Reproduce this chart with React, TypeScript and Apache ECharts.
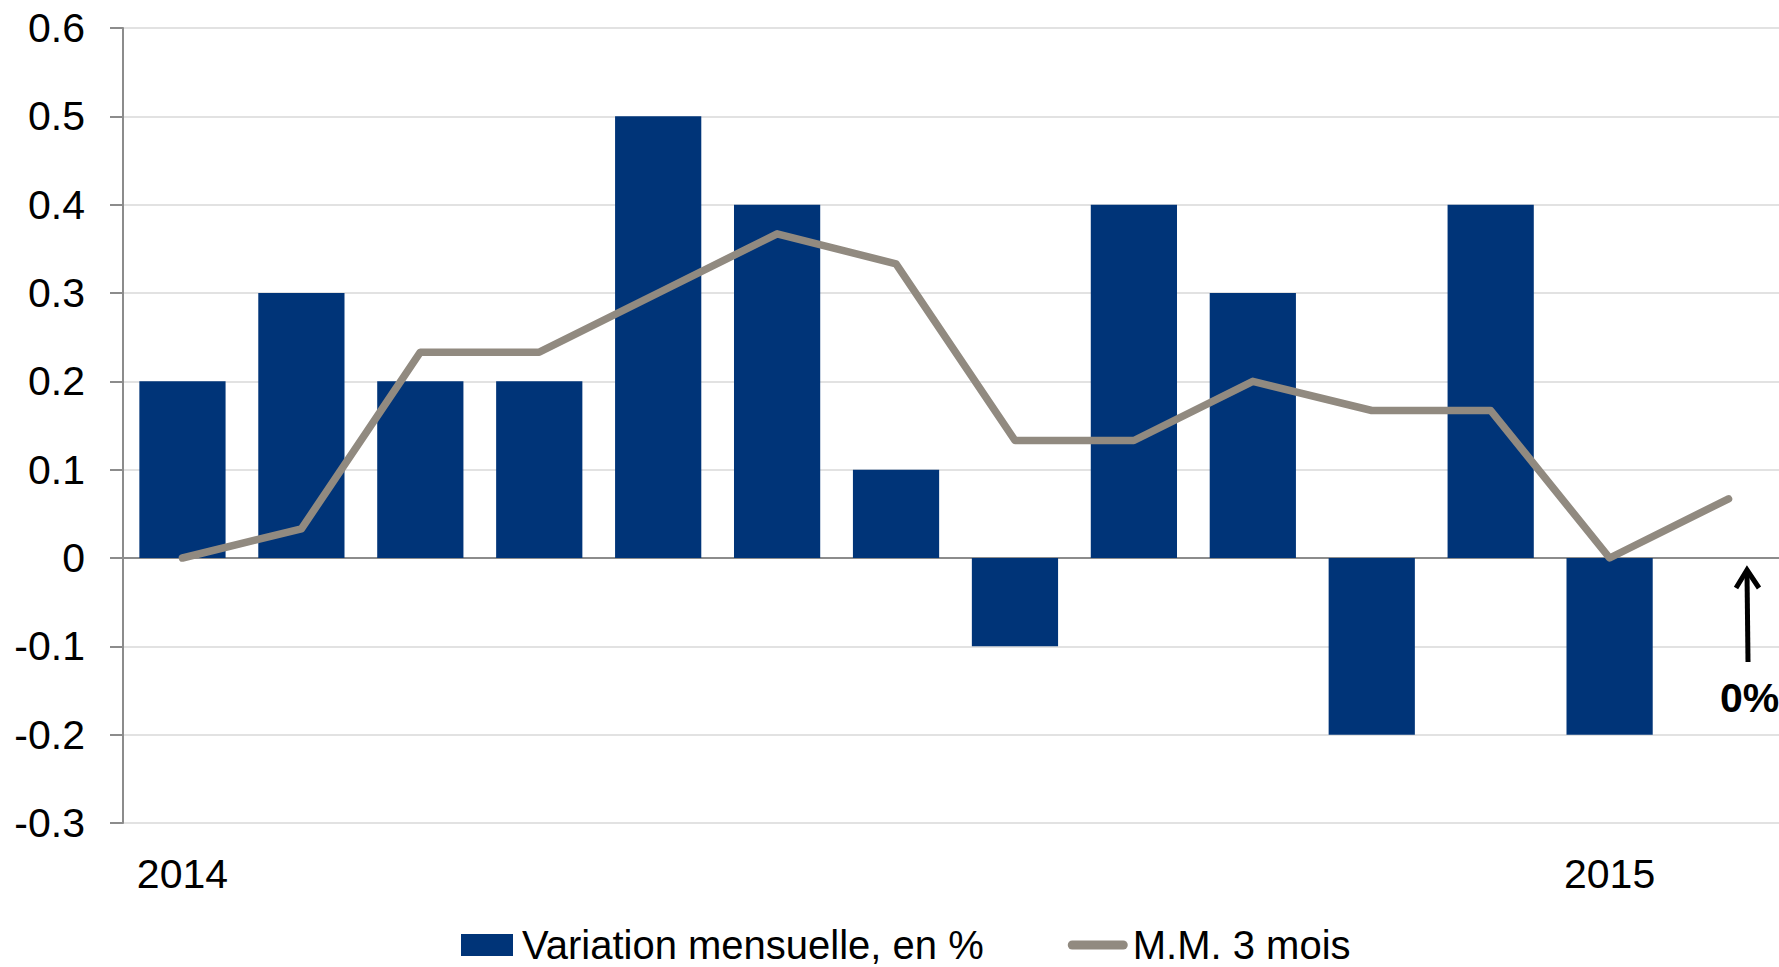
import React, { useEffect, useRef } from "react";
import * as echarts from "echarts";

const months = [
  "2014-01", "2014-02", "2014-03", "2014-04", "2014-05", "2014-06", "2014-07",
  "2014-08", "2014-09", "2014-10", "2014-11", "2014-12", "2015-01", "2015-02",
];
const monthlyChange = [0.2, 0.3, 0.2, 0.2, 0.5, 0.4, 0.1, -0.1, 0.4, 0.3, -0.2, 0.4, -0.2, 0];
const movingAvg3 = [0, 0.033, 0.233, 0.233, 0.3, 0.367, 0.333, 0.133, 0.133, 0.2, 0.167, 0.167, 0, 0.067];
const yMin = -0.3;
const yMax = 0.6;
const yStep = 0.1;
const barName = "Variation mensuelle, en %";
const lineName = "M.M. 3 mois";
const arrowLabel = "0%";

const FONT = "'Liberation Sans', Arial, Helvetica, sans-serif";
const BAR_COLOR = "#003478";
const LINE_COLOR = "#918a80";

export default function App() {
  const ref = useRef<HTMLDivElement>(null);
  useEffect(() => {
    if (!ref.current) return;
    const chart = echarts.init(ref.current, null, { renderer: "svg" });
    chart.setOption({
      animation: false,
      backgroundColor: "#ffffff",
      textStyle: { fontFamily: FONT },
      grid: { left: 123, top: 28, bottom: 144, width: 1665 },
      legend: {
        left: 461,
        top: 925,
        padding: 0,
        itemWidth: 60,
        itemHeight: 22,
        itemGap: 84,
        textStyle: { fontSize: 40, color: "#000", fontFamily: FONT },
        data: [
          { name: barName, icon: "path://M0,0 H52 V22 H0 Z" },
          {
            name: lineName,
            icon: "path://M4.5,0 H55.5 A4.5,4.5 0 0 1 55.5,9 H4.5 A4.5,4.5 0 0 1 4.5,0 Z",
          },
        ],
      },
      xAxis: [
        {
          type: "category",
          data: months,
          position: "bottom",
          boundaryGap: true,
          axisLine: { show: false, onZero: false },
          axisTick: { show: false },
          splitLine: { show: false },
          axisLabel: {
            interval: 0,
            margin: 30,
            fontSize: 41,
            color: "#000",
            fontFamily: FONT,
            formatter: (v: string) => (v.endsWith("-01") ? v.slice(0, 4) : ""),
          },
        },
        {
          type: "category",
          data: months,
          position: "bottom",
          boundaryGap: true,
          axisLine: { show: true, onZero: true, lineStyle: { color: "#8c8c8c", width: 2 } },
          axisTick: {
            show: true,
            interval: (i: number) => i === 12,
            length: 12,
            lineStyle: { color: "#8c8c8c", width: 2 },
          },
          axisLabel: { show: false },
          splitLine: { show: false },
        },
      ],
      yAxis: {
        type: "value",
        min: yMin,
        max: yMax,
        interval: yStep,
        axisLine: { show: true, lineStyle: { color: "#8c8c8c", width: 2 } },
        axisTick: { show: true, length: 13, lineStyle: { color: "#8c8c8c", width: 2 } },
        splitLine: { show: true, lineStyle: { color: "#d9d9d9", width: 1.5 } },
        axisLabel: {
          margin: 38,
          fontSize: 41,
          color: "#000",
          fontFamily: FONT,
          formatter: (v: number) => String(parseFloat(v.toFixed(1))),
        },
      },
      series: [
        {
          name: barName,
          type: "bar",
          xAxisIndex: 0,
          data: monthlyChange,
          barWidth: "72.5%",
          itemStyle: { color: BAR_COLOR },
          z: 2,
        },
        {
          name: lineName,
          type: "line",
          xAxisIndex: 0,
          data: movingAvg3,
          symbol: "none",
          lineStyle: { color: LINE_COLOR, width: 7.5, cap: "round", join: "round" },
          itemStyle: { color: LINE_COLOR },
          z: 4,
        },
      ],
      graphic: [
        {
          type: "line",
          shape: { x1: 1748, y1: 662, x2: 1747, y2: 572 },
          style: { stroke: "#000", lineWidth: 5 },
          z: 10,
        },
        {
          type: "polyline",
          shape: { points: [[1736, 588], [1747, 570], [1759, 588]] },
          style: { stroke: "#000", lineWidth: 5, fill: "none", lineJoin: "miter" },
          z: 10,
        },
        {
          type: "text",
          x: 1720,
          y: 698,
          style: {
            text: arrowLabel,
            fontSize: 41,
            fontWeight: "bold",
            fontFamily: FONT,
            fill: "#000",
            verticalAlign: "middle",
            align: "left",
          },
          z: 10,
        },
      ],
    });
    return () => chart.dispose();
  }, []);
  return (
    <div
      style={{
        position: "fixed",
        left: 0,
        top: 0,
        width: 1779,
        height: 967,
        overflow: "hidden",
        background: "#fff",
      }}
    >
      <div ref={ref} style={{ width: 1792, height: 967 }} />
    </div>
  );
}
